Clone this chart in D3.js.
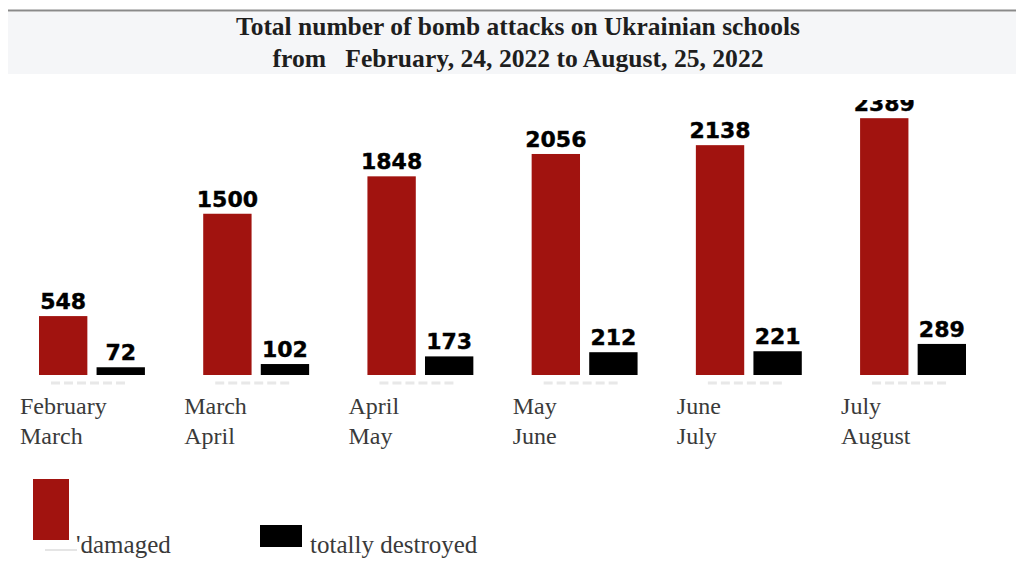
<!DOCTYPE html>
<html><head><meta charset="utf-8">
<script src="https://cdn.jsdelivr.net/npm/d3@7"></script>
<style>html,body{margin:0;padding:0;background:#fff;}svg{display:block;}</style>
</head><body>
<svg id="chart" width="1016" height="569"></svg>
<script>
const categories = [["February","March"],["March","April"],["April","May"],["May","June"],["June","July"],["July","August"]];
const damaged = [548, 1500, 1848, 2056, 2138, 2389];
const destroyed = [72, 102, 173, 212, 221, 289];
const seriesNames = ["damaged", "totally destroyed"];
const titleLines = ["Total number of bomb attacks on Ukrainian schools", "from   February, 24, 2022 to August, 25, 2022"];

const svg = d3.select("#chart");
const colors = d3.scaleOrdinal().domain(seriesNames).range(["#a1130f", "#000000"]);

// title band
svg.append("rect").attr("x", 8).attr("y", 12).attr("width", 1008).attr("height", 62).attr("fill", "#f5f6f8");
svg.append("line").attr("x1", 8).attr("x2", 1016).attr("y1", 10.5).attr("y2", 10.5).attr("stroke", "#8a8a8a").attr("stroke-width", 2);
const tLens = [564, 491];
const tY = [35, 67];
titleLines.forEach((t, i) => {
  svg.append("text").attr("x", 518).attr("y", tY[i]).attr("text-anchor", "middle")
    .attr("font-family", "Liberation Serif, serif").attr("font-weight", "bold").attr("font-size", 26)
    .attr("fill", "#1e1e1e").attr("textLength", tLens[i]).attr("lengthAdjust", "spacingAndGlyphs")
    .style("white-space", "pre").text(t);
});

const catKeys = categories.map(c => c.join(" "));
const x0 = d3.scaleBand().domain(catKeys).range([39, 966]).paddingInner(0.355).paddingOuter(0).align(0);
const x1 = d3.scaleBand().domain(seriesNames).range([0, x0.bandwidth()]).paddingInner(0.16);
const y = d3.scaleLinear().domain([0, 2400]).range([375, 117]);

svg.append("defs").append("clipPath").attr("id", "clip")
  .append("rect").attr("x", 0).attr("y", 100).attr("width", 1016).attr("height", 400);

const plot = svg.append("g").attr("clip-path", "url(#clip)");
const data = catKeys.map((k, i) => ({ key: k, values: [{ s: seriesNames[0], v: damaged[i] }, { s: seriesNames[1], v: destroyed[i] }] }));

const groups = plot.selectAll("g.grp").data(data).join("g").attr("class", "grp")
  .attr("transform", d => `translate(${x0(d.key)},0)`);
groups.selectAll("rect").data(d => d.values).join("rect")
  .attr("x", d => x1(d.s)).attr("width", x1.bandwidth())
  .attr("y", d => y(d.v)).attr("height", d => y(0) - y(d.v))
  .attr("fill", d => colors(d.s));
groups.selectAll("text.val").data(d => d.values).join("text").attr("class", "val")
  .attr("x", d => x1(d.s) + x1.bandwidth() / 2).attr("y", d => y(d.v) - 7)
  .attr("text-anchor", "middle").attr("font-family", "DejaVu Sans, sans-serif").attr("font-weight", "bold")
  .attr("font-size", 22).attr("fill", "#000").attr("stroke", "#000").attr("stroke-width", 0.4).text(d => d.v);

// faint smudges under bars
groups.append("line").attr("x1", x1(seriesNames[0]) + 12).attr("x2", x1(seriesNames[1]) + 30)
  .attr("y1", 383).attr("y2", 383).attr("stroke", "#e8e8e8").attr("stroke-width", 3).attr("stroke-dasharray", "9,4");

// category labels
const catG = svg.selectAll("g.cat").data(categories).join("g").attr("class", "cat")
  .attr("transform", (d, i) => `translate(${x0(catKeys[i]) - 19},0)`);
catG.selectAll("text").data(d => d).join("text")
  .attr("x", 0).attr("y", (d, j) => 414 + j * 30)
  .attr("font-family", "Liberation Serif, serif").attr("font-size", 24).attr("fill", "#3a3a3a").text(d => d);

// legend
const leg = svg.append("g");
leg.append("rect").attr("x", 33).attr("y", 479).attr("width", 36).attr("height", 61).attr("fill", colors(seriesNames[0]));
leg.append("line").attr("x1", 45).attr("x2", 77).attr("y1", 550).attr("y2", 550).attr("stroke", "#dcdcdc").attr("stroke-width", 1.5);
leg.append("text").attr("x", 76).attr("y", 553).attr("font-family", "Liberation Serif, serif").attr("font-size", 25)
  .attr("fill", "#3a3a3a").text("'" + seriesNames[0]);
leg.append("rect").attr("x", 260).attr("y", 525).attr("width", 42).attr("height", 22).attr("fill", colors(seriesNames[1]));
leg.append("text").attr("x", 310).attr("y", 553).attr("font-family", "Liberation Serif, serif").attr("font-size", 25)
  .attr("fill", "#3a3a3a").text(seriesNames[1]);
</script>
</body></html>
